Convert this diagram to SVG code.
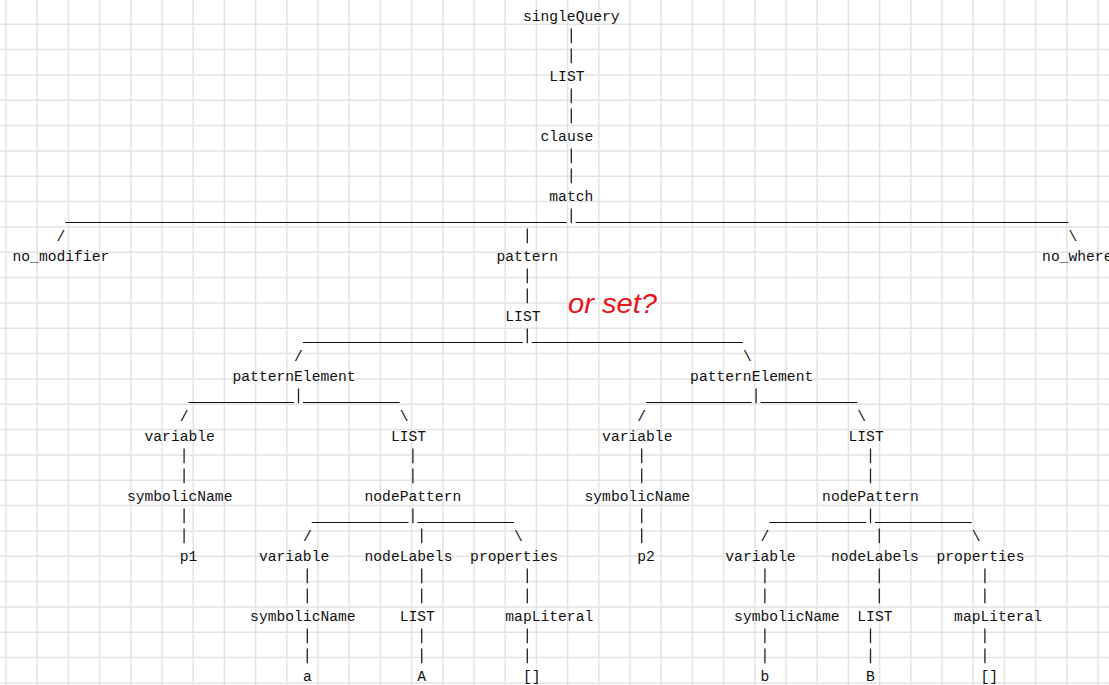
<svg xmlns="http://www.w3.org/2000/svg" width="1109" height="685" viewBox="0 0 1109 685">
<style>
text{font-family:"Liberation Mono","DejaVu Sans Mono",monospace;font-size:14.667px;fill:#111;}
.grid{stroke:#e4e4e4;stroke-width:1.5;fill:none;}
.ul{stroke:#111;stroke-width:1.2;}
.bar{stroke:#222;stroke-width:1.3;fill:none;}
.note{font-family:"Liberation Sans","DejaVu Sans",sans-serif;font-style:italic;font-size:27px;fill:#e8141a;}
</style>
<rect width="1109" height="685" fill="#fff"/>
<path class="grid" d="M6 0V685M37.2 0V685M68.4 0V685M99.6 0V685M130.8 0V685M162 0V685M193.2 0V685M224.4 0V685M255.6 0V685M286.8 0V685M318 0V685M349.2 0V685M380.4 0V685M411.6 0V685M442.8 0V685M474 0V685M505.2 0V685M536.4 0V685M567.6 0V685M598.8 0V685M630 0V685M661.2 0V685M692.4 0V685M723.6 0V685M754.8 0V685M786 0V685M817.2 0V685M848.4 0V685M879.6 0V685M910.8 0V685M942 0V685M973.2 0V685M1004.4 0V685M1035.6 0V685M1066.8 0V685M1098 0V685M0 24.3H1109M0 49.6H1109M0 75H1109M0 100.3H1109M0 125.6H1109M0 151H1109M0 176.3H1109M0 201.6H1109M0 227H1109M0 252.3H1109M0 277.6H1109M0 302.9H1109M0 328.3H1109M0 353.6H1109M0 378.9H1109M0 404.3H1109M0 429.6H1109M0 454.9H1109M0 480.2H1109M0 505.6H1109M0 530.9H1109M0 556.2H1109M0 581.6H1109M0 606.9H1109M0 632.2H1109M0 657.6H1109M0 682.9H1109"/>

<g id="connectors">
  <path class="bar" d="M571.3 28.5v14.8M571.3 48.5v14.8M571.3 88.5v14.8M571.3 108.5v14.8M571.3 148.5v14.8M571.3 168.5v14.8M571.3 208.5v14.8
  M527.3 228.5v14.8M527.3 268.5v14.8M527.3 288.5v14.8M527.3 328.5v14.8
  M298.5 388.5v14.8M756.1 388.5v14.8
  M184.1 448.5v14.8M184.1 468.5v14.8M184.1 508.5v14.8M184.1 528.5v14.8
  M412.9 448.5v14.8M412.9 468.5v14.8M412.9 508.5v14.8
  M641.7 448.5v14.8M641.7 468.5v14.8M641.7 508.5v14.8M641.7 528.5v14.8
  M870.5 448.5v14.8M870.5 468.5v14.8M870.5 508.5v14.8M870.5 628.5v14.8M870.5 648.5v14.8
  M421.7 528.5v14.8M421.7 568.5v14.8M421.7 588.5v14.8M421.7 628.5v14.8M421.7 648.5v14.8
  M307.3 568.5v14.8M307.3 588.5v14.8M307.3 628.5v14.8M307.3 648.5v14.8
  M527.3 568.5v14.8M527.3 588.5v14.8M527.3 628.5v14.8M527.3 648.5v14.8
  M764.9 568.5v14.8M764.9 588.5v14.8M764.9 628.5v14.8M764.9 648.5v14.8
  M879.3 528.5v14.8M879.3 568.5v14.8M879.3 588.5v14.8
  M984.9 568.5v14.8M984.9 588.5v14.8M984.9 628.5v14.8M984.9 648.5v14.8"/>
  <line class="ul" x1="65.3" y1="222.5" x2="566.9" y2="222.5"/>
  <line class="ul" x1="575.7" y1="222.5" x2="1068.5" y2="222.5"/>
  <text x="56.5 1068.5" y="241">/\</text>
  <line class="ul" x1="302.9" y1="342.5" x2="522.9" y2="342.5"/>
  <line class="ul" x1="531.7" y1="342.5" x2="742.9" y2="342.5"/>
  <text x="294.1 742.9" y="361">/\</text>
  <line class="ul" x1="188.5" y1="402.5" x2="294.1" y2="402.5"/>
  <line class="ul" x1="302.9" y1="402.5" x2="399.7" y2="402.5"/>
  <line class="ul" x1="646.1" y1="402.5" x2="751.7" y2="402.5"/>
  <line class="ul" x1="760.5" y1="402.5" x2="857.3" y2="402.5"/>
  <text x="179.7 399.7 637.3 857.3" y="421">/\/\</text>
  <line class="ul" x1="311.7" y1="522.5" x2="408.5" y2="522.5"/>
  <line class="ul" x1="417.3" y1="522.5" x2="514.1" y2="522.5"/>
  <line class="ul" x1="769.3" y1="522.5" x2="866.1" y2="522.5"/>
  <line class="ul" x1="874.9" y1="522.5" x2="971.7" y2="522.5"/>
  <text x="302.9 514.1 760.5 971.7" y="541">/\/\</text>
</g>

<g id="singleQuery"><text x="522.9" y="21">singleQuery</text></g>
<g id="list_root"><text x="549.3" y="81">LIST</text></g>
<g id="clause"><text x="540.5" y="141">clause</text></g>
<g id="match"><text x="549.3" y="201">match</text></g>
<g id="no_modifier"><text x="12.5" y="261">no_modifier</text></g>
<g id="pattern"><text x="496.5" y="261">pattern</text></g>
<g id="no_where"><text x="1042.1" y="261">no_where</text></g>
<g id="list_pattern"><text x="505.3" y="321">LIST</text></g>
<g id="note"><text class="note" x="568" y="313" textLength="89" lengthAdjust="spacingAndGlyphs">or set?</text></g>

<g id="patternElement1"><text x="232.5" y="381">patternElement</text></g>
<g id="patternElement2"><text x="690.1" y="381">patternElement</text></g>

<g id="variable1"><text x="144.5" y="441">variable</text></g>
<g id="list1"><text x="390.9" y="441">LIST</text></g>
<g id="variable2"><text x="602.1" y="441">variable</text></g>
<g id="list2"><text x="848.5" y="441">LIST</text></g>

<g id="symbolicName1"><text x="126.9" y="501">symbolicName</text></g>
<g id="nodePattern1"><text x="364.5" y="501">nodePattern</text></g>
<g id="symbolicName2"><text x="584.5" y="501">symbolicName</text></g>
<g id="nodePattern2"><text x="822.1" y="501">nodePattern</text></g>

<g id="p1"><text x="179.7" y="561">p1</text></g>
<g id="variable3"><text x="258.9" y="561">variable</text></g>
<g id="nodeLabels1"><text x="364.5" y="561">nodeLabels</text></g>
<g id="properties1"><text x="470.1" y="561">properties</text></g>
<g id="p2"><text x="637.3" y="561">p2</text></g>
<g id="variable4"><text x="725.3" y="561">variable</text></g>
<g id="nodeLabels2"><text x="830.9" y="561">nodeLabels</text></g>
<g id="properties2"><text x="936.5" y="561">properties</text></g>

<g id="symbolicName3"><text x="250.1" y="621">symbolicName</text></g>
<g id="list3"><text x="399.7" y="621">LIST</text></g>
<g id="mapLiteral1"><text x="505.3" y="621">mapLiteral</text></g>
<g id="symbolicName4"><text x="734.1" y="621">symbolicName</text></g>
<g id="list4"><text x="857.3" y="621">LIST</text></g>
<g id="mapLiteral2"><text x="954.1" y="621">mapLiteral</text></g>

<g id="a"><text x="302.9" y="681">a</text></g>
<g id="A"><text x="417.3" y="681">A</text></g>
<g id="empty1"><text x="522.9" y="681">[]</text></g>
<g id="b"><text x="760.5" y="681">b</text></g>
<g id="B"><text x="866.1" y="681">B</text></g>
<g id="empty2"><text x="980.5" y="681">[]</text></g>
</svg>
